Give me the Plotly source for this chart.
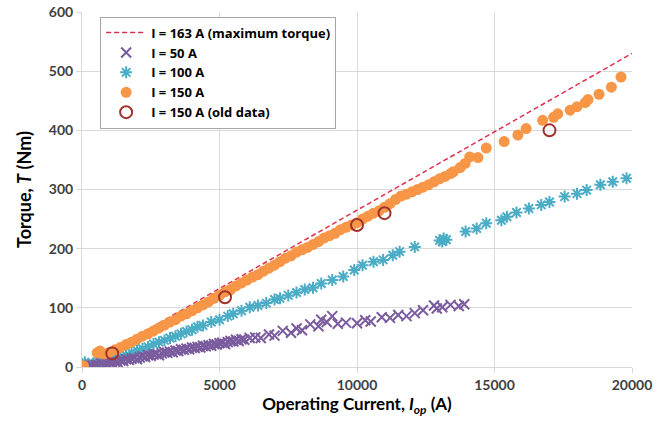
import plotly.graph_objects as go

# ---- data ----
max_x = [0, 20000]
max_T = [0, 530]

i50_x = [100, 200, 300, 400, 500, 600, 700, 800, 900, 1000, 1100, 1200, 1300, 1400, 1500, 1600,
         1700, 1800, 1900, 2000, 2100, 2200, 2300, 2400, 2500, 2600, 2700, 2800, 2900, 3000,
         3100, 3200, 3300, 3400, 3500, 3600, 3700, 3800, 3900, 4000, 4100, 4200, 4300, 4400,
         4500, 4600, 4700, 4800, 4900, 5000, 5100, 5200, 5300, 5400, 5500, 5600, 5700, 5800,
         5900, 6100, 6300, 6500, 6800, 7000, 7300, 7600, 7800, 8000, 8300, 8600, 8700, 8900,
         9100, 9300, 9600, 10000, 10300, 10500, 10900, 11200, 11500, 11800, 12100, 12400,
         12800, 12900, 13100, 13400, 13700, 13900]
i50_T = [1, 0, 3, 2, 4, 3, 6, 4, 6, 8, 7, 9, 8, 11, 10, 13, 12, 14, 15, 13, 16, 18, 17, 20,
         19, 21, 22, 20, 23, 25, 24, 26, 25, 28, 27, 30, 29, 31, 30, 33, 32, 34, 33, 36, 35,
         37, 36, 39, 38, 40, 41, 39, 42, 44, 43, 46, 44, 47, 46, 49, 50, 49, 55, 53, 61, 58,
         65, 62, 72, 69, 80, 76, 86, 73, 75, 74, 79, 77, 84, 83, 88, 86, 91, 96, 104, 99, 101,
         105, 103, 106]

i100_x = [0, 100, 250, 400, 600, 800, 1000, 1200, 1400, 1600, 1800, 2000, 2200, 2400, 2600,
          2800, 3000, 3200, 3400, 3600, 3800, 4000, 4200, 4400, 4700, 5000, 5300, 5500, 5800,
          6100, 6400, 6700, 7000, 7200, 7500, 7800, 8100, 8400, 8700, 9100, 9500, 9900, 10200,
          10600, 10950, 11300, 11550, 12100, 13000, 13100, 13150, 13250, 13950, 14350, 14700,
          15250, 15450, 15800, 16250, 16700, 17000, 17550, 18000, 18350, 18850, 19300, 19800]
i100_T = [5, 8, 3, 6, 8, 9, 11, 14, 17, 20, 24, 28, 31, 34, 39, 42, 45, 49, 52, 56, 60, 63,
          68, 70, 76, 80, 86, 90, 95, 101, 104, 108, 114, 116, 121, 126, 131, 134, 141, 147,
          153, 164, 172, 178, 181, 189, 195, 203, 214, 212, 217, 215, 229, 234, 243, 248, 254,
          261, 268, 274, 279, 288, 293, 299, 308, 313, 319]

i150_x = [0, 50, 550, 650, 800, 1000, 1200, 1400, 1600, 1800, 2000, 2200, 2400, 2600, 2800,
          3000, 3200, 3400, 3600, 3800, 4000, 4200, 4400, 4600, 4800, 5000, 5200, 5400, 5600,
          5800, 6000, 6200, 6400, 6600, 6800, 7000, 7200, 7400, 7600, 7800, 8000, 8200, 8400,
          8600, 8800, 9000, 9200, 9400, 9600, 9800, 10000, 10200, 10400, 10600, 10800, 11000,
          11200, 11400, 11600, 11800, 12000, 12200, 12400, 12600, 12800, 13000, 13200, 13400,
          13500, 13750, 13930, 14100, 14400, 14700, 15350, 15850, 16150, 16750, 17150, 17300,
          17750, 18000, 18300, 18400, 18800, 19250, 19600]
i150_T = [0, 2, 24, 27, 22, 25, 29, 33, 38, 42, 47, 52, 56, 61, 66, 71, 76, 80, 86, 90, 95,
          100, 105, 110, 116, 121, 127, 131, 137, 142, 147, 152, 156, 162, 167, 172, 178, 184,
          188, 194, 198, 202, 207, 212, 218, 222, 226, 232, 236, 240, 244, 250, 255, 260, 264,
          270, 276, 283, 289, 292, 296, 300, 304, 308, 313, 318, 322, 327, 330, 337, 344, 355,
          354, 370, 381, 392, 403, 417, 422, 428, 434, 440, 447, 452, 461, 473, 490]

old_x = [1100, 5200, 10000, 11000, 17000]
old_T = [23, 118, 240, 260, 400]

x_ticks = [0, 5000, 10000, 15000, 20000]
y_ticks = [0, 100, 200, 300, 400, 500, 600]

FONT = "Lato"
LEG_FONT = "Open Sans"

fig = go.Figure()
fig.add_trace(go.Scatter(x=max_x, y=max_T, mode="lines", name="I = 163 A (maximum torque)",
                         line=dict(color="#E0304E", width=1.5, dash="5px,3px"), legendrank=1))
fig.add_trace(go.Scatter(x=i100_x, y=i100_T, mode="markers", name="I = 100 A",
                         marker=dict(symbol="asterisk-open", size=10, color="#4BACC6",
                                     line=dict(color="#4BACC6", width=2)), legendrank=3))
fig.add_trace(go.Scatter(x=i50_x, y=i50_T, mode="markers", name="I = 50 A",
                         marker=dict(symbol="x-thin-open", size=10, color="#7A5C9E",
                                     line=dict(color="#7A5C9E", width=2)), legendrank=2))
fig.add_trace(go.Scatter(x=i150_x, y=i150_T, mode="markers", name="I = 150 A",
                         marker=dict(symbol="circle", size=11, color="#F79646"), legendrank=4))
fig.add_trace(go.Scatter(x=old_x, y=old_T, mode="markers", name="I = 150 A (old data)",
                         marker=dict(symbol="circle-open", size=12, color="#A0322C",
                                     line=dict(color="#A0322C", width=2)), legendrank=5))

fig.update_layout(
    width=667, height=425,
    margin=dict(l=82, r=35, t=12, b=58, autoexpand=False),
    paper_bgcolor="white", plot_bgcolor="white",
    font=dict(family=FONT, size=14, color="#404040"),
    legend=dict(x=0.033, y=0.987, xanchor="left", yanchor="top",
                bgcolor="white", bordercolor="#A6A6A6", borderwidth=1,
                font=dict(family=LEG_FONT, size=13, color="#000000", weight="bold"),
                tracegroupgap=0, itemwidth=40),
    showlegend=True,
)
fig.update_xaxes(range=[0, 20000], tickvals=x_ticks, ticktext=[str(v) for v in x_ticks],
                 automargin=False,
                 showgrid=True, gridcolor="#D9D9D9", gridwidth=1,
                 showline=True, linecolor="#D9D9D9", zeroline=False,
                 ticks="outside", ticklen=5, tickcolor="#D9D9D9",
                 tickfont=dict(family=FONT, size=14, color="#404040", weight="bold"),
                 title=dict(text="Operating Current, <i>I<sub>op</sub></i> (A)",
                            font=dict(family=FONT, size=17, color="#000000", weight="bold"),
                            standoff=6))
fig.update_yaxes(range=[0, 600], tickvals=y_ticks,
                 automargin=False,
                 showgrid=True, gridcolor="#D9D9D9", gridwidth=1,
                 showline=True, linecolor="#D9D9D9", zeroline=False,
                 ticks="outside", ticklen=5, tickcolor="#D9D9D9",
                 tickfont=dict(family=FONT, size=14, color="#404040", weight="bold"),
                 title=dict(text="Torque, <i>T</i> (Nm)",
                            font=dict(family=FONT, size=18, color="#000000", weight="bold"),
                            standoff=12))

fig.write_html("out.html", config={"displayModeBar": False},
               post_script="document.body.style.margin='0';")
